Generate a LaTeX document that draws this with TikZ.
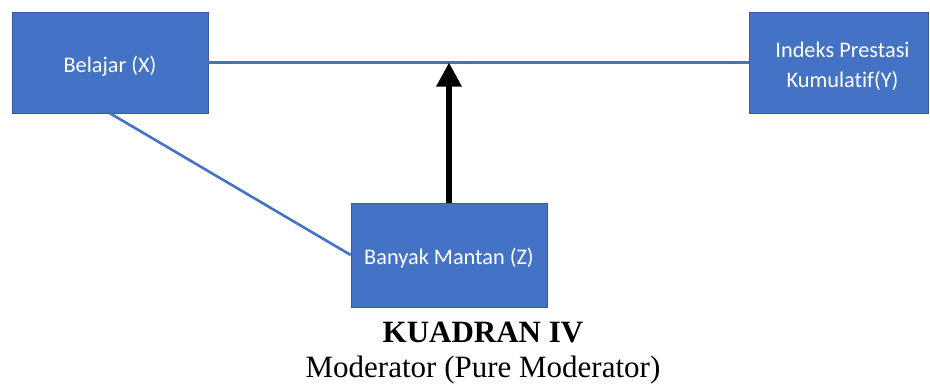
\documentclass[tikz,border=0pt]{standalone}
\usepackage{fontspec}
\setmainfont{Liberation Serif}
\newfontfamily\boxfont[Ligatures={NoCommon,NoRare,NoDiscretionary}]{Carlito}
\usetikzlibrary{arrows.meta}
\definecolor{boxblue}{HTML}{4472C4}
\begin{document}
\begin{tikzpicture}[x=1pt,y=-1pt,
  vbox/.style={draw=boxblue!80!black,line width=0.6pt,fill=boxblue,text=white,
    font=\boxfont\fontsize{22.3}{29}\selectfont,align=center,inner sep=0pt},
  link/.style={draw=boxblue,line width=2.6pt},
  modarrow/.style={draw=black,line width=6.5pt,-{Triangle[width=24pt,length=24pt]}}]
\useasboundingbox (0,0) rectangle (930,391);
\node[vbox,minimum width=196pt,minimum height=101pt] (x) at (110,62.5) {\raisebox{-10pt}[0pt][0pt]{Belajar (X)}};
\node[vbox,minimum width=179pt,minimum height=101pt] (y) at (838.5,62.5) {\raisebox{5.5pt}[0pt][0pt]{\begin{tabular}[t]{@{}c@{}}\hspace*{8pt}Indeks Prestasi\\[1pt]\hspace*{8pt}Kumulat{}if(Y)\end{tabular}}};
\node[vbox,minimum width=196pt,minimum height=104pt] (z) at (449,255) {\raisebox{-9pt}[0pt][0pt]{Banyak Mantan (Z)}};
\coordinate (m) at (z.north |- x.east);
\draw[link] (x.east) -- (y.west);
\draw[link] (x.south) -- (z.west);
\draw[modarrow] (z.north) -- (m);
\node[anchor=base,font=\fontsize{31}{36}\selectfont\bfseries] (t1) at (483,342) {KUADRAN IV};
\node[anchor=base,font=\fontsize{31}{36}\selectfont] (t2) at (483,377) {Moderator (Pure Moderator)};
\end{tikzpicture}
\end{document}
